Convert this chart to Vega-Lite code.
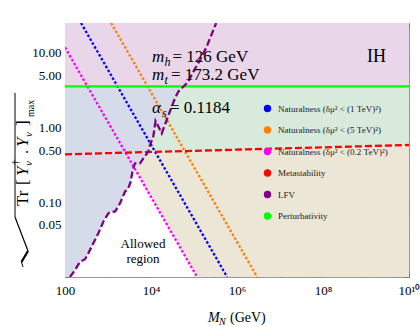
{
  "$schema": "https://vega.github.io/schema/vega-lite/v6.json",
  "width": 344,
  "height": 254,
  "autosize": {"type": "none"},
  "padding": {"left": 65, "top": 23, "right": 11, "bottom": 50},
  "config": {
    "view": {"stroke": "#9a9a9a", "strokeWidth": 1},
    "font": "Liberation Serif",
    "axis": {"labelFont": "Liberation Serif", "labelColor": "#000", "grid": false, "domain": false, "ticks": true, "tickColor": "#777", "tickWidth": 1, "tickOpacity": 1, "labelOverlap": false, "labelFlush": false, "labelBound": false, "zindex": 2}
  },
  "datasets": {
    "lines": [
      {"s": "Naturalness (δμ² < (1 TeV)²)", "x": 236, "y": 25},
      {"s": "Naturalness (δμ² < (1 TeV)²)", "x": 590000, "y": 0.01},
      {"s": "Naturalness (δμ² < (5 TeV)²)", "x": 1180, "y": 25},
      {"s": "Naturalness (δμ² < (5 TeV)²)", "x": 2950000, "y": 0.01},
      {"s": "Naturalness (δμ² < (0.2 TeV)²)", "x": 100, "y": 11.8},
      {"s": "Naturalness (δμ² < (0.2 TeV)²)", "x": 118000, "y": 0.01},
      {"s": "Metastability", "x": 100, "y": 0.438},
      {"s": "Metastability", "x": 10000000000, "y": 0.583},
      {"s": "Perturbativity", "x": 100, "y": 3.545},
      {"s": "Perturbativity", "x": 10000000000, "y": 3.545},
      {"s": "LFV", "x": 130.7, "y": 0.01},
      {"s": "LFV", "x": 171, "y": 0.0124},
      {"s": "LFV", "x": 223, "y": 0.016},
      {"s": "LFV", "x": 292, "y": 0.0173},
      {"s": "LFV", "x": 348, "y": 0.0207},
      {"s": "LFV", "x": 455, "y": 0.0282},
      {"s": "LFV", "x": 595, "y": 0.0384},
      {"s": "LFV", "x": 778, "y": 0.0549},
      {"s": "LFV", "x": 1016, "y": 0.0711},
      {"s": "LFV", "x": 1219, "y": 0.0748},
      {"s": "LFV", "x": 1456, "y": 0.0748},
      {"s": "LFV", "x": 1901, "y": 0.0968},
      {"s": "LFV", "x": 2485, "y": 0.1384},
      {"s": "LFV", "x": 2965, "y": 0.1537},
      {"s": "LFV", "x": 3373, "y": 0.1884},
      {"s": "LFV", "x": 3753, "y": 0.27},
      {"s": "LFV", "x": 4244, "y": 0.332},
      {"s": "LFV", "x": 5548, "y": 0.332},
      {"s": "LFV", "x": 6624, "y": 0.387},
      {"s": "LFV", "x": 8650, "y": 0.475},
      {"s": "LFV", "x": 9480, "y": 0.583},
      {"s": "LFV", "x": 11300, "y": 0.753},
      {"s": "LFV", "x": 12740, "y": 1.222},
      {"s": "LFV", "x": 17740, "y": 0.836},
      {"s": "LFV", "x": 23180, "y": 1.26},
      {"s": "LFV", "x": 30280, "y": 1.897},
      {"s": "LFV", "x": 36140, "y": 2.46},
      {"s": "LFV", "x": 43150, "y": 3.01},
      {"s": "LFV", "x": 56370, "y": 3.51},
      {"s": "LFV", "x": 73640, "y": 4.1},
      {"s": "LFV", "x": 96350, "y": 5.58},
      {"s": "LFV", "x": 138000, "y": 8.0},
      {"s": "LFV", "x": 197400, "y": 12.05},
      {"s": "LFV", "x": 281000, "y": 20.1},
      {"s": "LFV", "x": 328000, "y": 25}
    ],
    "blue_region": [
      {"x": 100, "lo": 0.01}, {"x": 130.7, "lo": 0.01}, {"x": 171, "lo": 0.0124}, {"x": 223, "lo": 0.016},
      {"x": 292, "lo": 0.0173}, {"x": 348, "lo": 0.0207}, {"x": 455, "lo": 0.0282}, {"x": 595, "lo": 0.0384},
      {"x": 778, "lo": 0.0549}, {"x": 1016, "lo": 0.0711}, {"x": 1219, "lo": 0.0748}, {"x": 1456, "lo": 0.0748},
      {"x": 1901, "lo": 0.0968}, {"x": 2485, "lo": 0.1384}, {"x": 2965, "lo": 0.1537}, {"x": 3373, "lo": 0.1884},
      {"x": 3753, "lo": 0.27}, {"x": 4244, "lo": 0.332}, {"x": 5548, "lo": 0.332}, {"x": 6624, "lo": 0.387},
      {"x": 8650, "lo": 0.475}, {"x": 9480, "lo": 0.583}, {"x": 11300, "lo": 0.753}, {"x": 12740, "lo": 1.222},
      {"x": 17740, "lo": 0.836}, {"x": 23180, "lo": 1.26}, {"x": 30280, "lo": 1.897}, {"x": 36140, "lo": 2.46},
      {"x": 43150, "lo": 3.01}, {"x": 56370, "lo": 3.51}, {"x": 57500, "lo": 3.545}
    ],
    "allowed": [
      {"x": 130.7, "hi": 0.01}, {"x": 171, "hi": 0.0124}, {"x": 223, "hi": 0.016}, {"x": 292, "hi": 0.0173},
      {"x": 348, "hi": 0.0207}, {"x": 455, "hi": 0.0282}, {"x": 595, "hi": 0.0384}, {"x": 778, "hi": 0.0549},
      {"x": 1016, "hi": 0.0711}, {"x": 1219, "hi": 0.0748}, {"x": 1456, "hi": 0.0748}, {"x": 1901, "hi": 0.0968},
      {"x": 2485, "hi": 0.1384}, {"x": 2965, "hi": 0.1537}, {"x": 3373, "hi": 0.1884}, {"x": 3753, "hi": 0.27},
      {"x": 3972, "hi": 0.297}, {"x": 118000, "hi": 0.01}
    ]
  },
  "resolve": {"axis": {"x": "independent", "y": "independent"}},
  "layer": [
    {
      "data": {"values": [{}]},
      "mark": {"type": "rect", "color": "#ebe6d6"},
      "encoding": {
        "x": {"datum": 100, "type": "quantitative", "scale": {"type": "log", "domain": [100, 10000000000], "nice": false},
          "axis": {"orient": "bottom", "title": null, "offset": -4, "tickSize": 4, "labelPadding": 7, "labelFontSize": 13,
            "values": [100, 1000, 2000, 3000, 4000, 5000, 6000, 7000, 8000, 9000, 10000, 100000, 200000, 300000, 400000, 500000, 600000, 700000, 800000, 900000, 1000000, 10000000, 20000000, 30000000, 40000000, 50000000, 60000000, 70000000, 80000000, 90000000, 100000000, 1000000000, 2000000000, 3000000000, 4000000000, 5000000000, 6000000000, 7000000000, 8000000000, 9000000000, 10000000000],
            "labelExpr": "datum.value == 100 ? '100' : datum.value == 10000 ? '10⁴' : datum.value == 1000000 ? '10⁶' : datum.value == 100000000 ? '10⁸' : datum.value == 10000000000 ? '10¹⁰' : ''"}},
        "x2": {"datum": 10000000000},
        "y": {"datum": 0.01, "type": "quantitative", "scale": {"type": "log", "domain": [0.01, 25], "nice": false},
          "axis": {"orient": "left", "title": null, "offset": -4, "tickSize": 4, "labelPadding": 4, "labelFontSize": 13,
            "values": [0.01, 0.02, 0.03, 0.04, 0.05, 0.06, 0.07, 0.08, 0.09, 0.1, 0.2, 0.3, 0.4, 0.5, 0.6, 0.7, 0.8, 0.9, 1, 2, 3, 4, 5, 6, 7, 8, 9, 10, 20],
            "labelExpr": "indexof([0.05, 0.1, 0.5, 1, 5, 10], datum.value) >= 0 ? format(datum.value, '.2f') : ''"}},
        "y2": {"datum": 3.545}
      }
    },
    {
      "data": {"values": [{}]},
      "mark": {"type": "rect", "color": "#e9d6e9"},
      "encoding": {
        "x": {"datum": 100, "type": "quantitative",
          "axis": {"orient": "top", "title": null, "labels": false, "offset": -4, "tickSize": 4,
            "values": [100, 1000, 2000, 3000, 4000, 5000, 6000, 7000, 8000, 9000, 10000, 100000, 200000, 300000, 400000, 500000, 600000, 700000, 800000, 900000, 1000000, 10000000, 20000000, 30000000, 40000000, 50000000, 60000000, 70000000, 80000000, 90000000, 100000000, 1000000000, 2000000000, 3000000000, 4000000000, 5000000000, 6000000000, 7000000000, 8000000000, 9000000000, 10000000000]}},
        "x2": {"datum": 10000000000},
        "y": {"datum": 3.545, "type": "quantitative",
          "axis": {"orient": "right", "title": null, "labels": false, "offset": -4, "tickSize": 4,
            "values": [0.01, 0.02, 0.03, 0.04, 0.05, 0.06, 0.07, 0.08, 0.09, 0.1, 0.2, 0.3, 0.4, 0.5, 0.6, 0.7, 0.8, 0.9, 1, 2, 3, 4, 5, 6, 7, 8, 9, 10, 20]}},
        "y2": {"datum": 25}
      }
    },
    {
      "data": {"name": "lines"},
      "transform": [{"filter": "datum.s == 'Metastability'"}],
      "mark": {"type": "area", "color": "#d8eadc", "clip": true},
      "encoding": {
        "x": {"field": "x", "type": "quantitative", "axis": null},
        "y": {"field": "y", "type": "quantitative", "axis": null},
        "y2": {"datum": 3.545}
      }
    },
    {
      "data": {"name": "blue_region"},
      "mark": {"type": "area", "color": "#d6dbea", "clip": true},
      "encoding": {
        "x": {"field": "x", "type": "quantitative", "axis": null},
        "y": {"field": "lo", "type": "quantitative", "axis": null},
        "y2": {"datum": 3.545}
      }
    },
    {
      "data": {"name": "allowed"},
      "mark": {"type": "area", "color": "#ffffff", "clip": true},
      "encoding": {
        "x": {"field": "x", "type": "quantitative", "axis": null},
        "y": {"field": "hi", "type": "quantitative", "axis": null},
        "y2": {"datum": 0.01}
      }
    },
    {
      "data": {"name": "lines"},
      "mark": {"type": "line", "strokeWidth": 2.3, "clip": true, "strokeCap": "butt"},
      "encoding": {
        "x": {"field": "x", "type": "quantitative", "axis": null},
        "y": {"field": "y", "type": "quantitative", "axis": null},
        "color": {"field": "s", "type": "nominal",
          "scale": {"domain": ["Naturalness (δμ² < (1 TeV)²)", "Naturalness (δμ² < (5 TeV)²)", "Naturalness (δμ² < (0.2 TeV)²)", "Metastability", "LFV", "Perturbativity"],
                    "range": ["#0000ff", "#ff8000", "#ff00ff", "#ff0000", "#800080", "#00ff00"]},
          "legend": {"orient": "none", "legendX": 198, "legendY": 81, "title": null, "padding": 0,
            "symbolType": "circle", "symbolSize": 55, "symbolStrokeWidth": 0, "rowPadding": 11.5, "labelOffset": 6,
            "labelFont": "Liberation Serif", "labelFontSize": 9, "labelColor": "#222", "labelLimit": 300,
            "encode": {"symbols": {"update": {"fill": {"scale": "color", "field": "value"}, "opacity": {"value": 1}, "strokeWidth": {"value": 0}}}}}},
        "strokeDash": {"field": "s", "type": "nominal",
          "scale": {"domain": ["Naturalness (δμ² < (1 TeV)²)", "Naturalness (δμ² < (5 TeV)²)", "Naturalness (δμ² < (0.2 TeV)²)", "Metastability", "LFV", "Perturbativity"],
                    "range": [[2.5, 2], [2.5, 2], [2.5, 2], [7, 3], [7, 3], [1, 0]]},
          "legend": null}
      }
    },
    {"data": {"values": [{}]}, "mark": {"type": "text", "text": "m", "fontSize": 17, "fontStyle": "italic", "align": "left", "baseline": "alphabetic"},
     "encoding": {"x": {"datum": 10540, "axis": null}, "y": {"datum": 7.52, "axis": null}}},
    {"data": {"values": [{}]}, "mark": {"type": "text", "text": "h", "fontSize": 12, "fontStyle": "italic", "align": "left", "baseline": "alphabetic", "dx": 12.5, "dy": 4},
     "encoding": {"x": {"datum": 10540, "axis": null}, "y": {"datum": 7.52, "axis": null}}},
    {"data": {"values": [{}]}, "mark": {"type": "text", "text": "= 126 GeV", "fontSize": 17, "align": "left", "baseline": "alphabetic", "dx": 20.5},
     "encoding": {"x": {"datum": 10540, "axis": null}, "y": {"datum": 7.52, "axis": null}}},
    {"data": {"values": [{}]}, "mark": {"type": "text", "text": "m", "fontSize": 17, "fontStyle": "italic", "align": "left", "baseline": "alphabetic"},
     "encoding": {"x": {"datum": 10540, "axis": null}, "y": {"datum": 4.32, "axis": null}}},
    {"data": {"values": [{}]}, "mark": {"type": "text", "text": "t", "fontSize": 12, "fontStyle": "italic", "align": "left", "baseline": "alphabetic", "dx": 12.5, "dy": 4},
     "encoding": {"x": {"datum": 10540, "axis": null}, "y": {"datum": 4.32, "axis": null}}},
    {"data": {"values": [{}]}, "mark": {"type": "text", "text": "= 173.2 GeV", "fontSize": 17, "align": "left", "baseline": "alphabetic", "dx": 19},
     "encoding": {"x": {"datum": 10540, "axis": null}, "y": {"datum": 4.32, "axis": null}}},
    {"data": {"values": [{}]}, "mark": {"type": "text", "text": "α", "fontSize": 17, "fontStyle": "italic", "align": "left", "baseline": "alphabetic"},
     "encoding": {"x": {"datum": 10540, "axis": null}, "y": {"datum": 1.563, "axis": null}}},
    {"data": {"values": [{}]}, "mark": {"type": "text", "text": "s", "fontSize": 12, "fontStyle": "italic", "align": "left", "baseline": "alphabetic", "dx": 10, "dy": 4},
     "encoding": {"x": {"datum": 10540, "axis": null}, "y": {"datum": 1.563, "axis": null}}},
    {"data": {"values": [{}]}, "mark": {"type": "text", "text": "= 0.1184", "fontSize": 17, "align": "left", "baseline": "alphabetic", "dx": 18},
     "encoding": {"x": {"datum": 10540, "axis": null}, "y": {"datum": 1.563, "axis": null}}},
    {"data": {"values": [{}]}, "mark": {"type": "text", "text": "IH", "fontSize": 18, "align": "left", "baseline": "alphabetic"},
     "encoding": {"x": {"datum": 1054000000, "axis": null}, "y": {"datum": 7.52, "axis": null}}},
    {"data": {"values": [{}]}, "mark": {"type": "text", "text": "Allowed", "fontSize": 13, "align": "center", "baseline": "alphabetic"},
     "encoding": {"x": {"datum": 6520, "axis": null}, "y": {"datum": 0.0244, "axis": null}}},
    {"data": {"values": [{}]}, "mark": {"type": "text", "text": "region", "fontSize": 13, "align": "center", "baseline": "alphabetic"},
     "encoding": {"x": {"datum": 6520, "axis": null}, "y": {"datum": 0.0154, "axis": null}}},
    {"data": {"values": [{}]}, "mark": {"type": "text", "text": "M", "fontSize": 14, "fontStyle": "italic", "align": "left", "baseline": "alphabetic"},
     "encoding": {"x": {"datum": 211800, "axis": null}, "y": {"datum": 0.0025, "axis": null}}},
    {"data": {"values": [{}]}, "mark": {"type": "text", "text": "N", "fontSize": 10, "fontStyle": "italic", "align": "left", "baseline": "alphabetic", "dx": 11, "dy": 3},
     "encoding": {"x": {"datum": 211800, "axis": null}, "y": {"datum": 0.0025, "axis": null}}},
    {"data": {"values": [{}]}, "mark": {"type": "text", "text": "(GeV)", "fontSize": 14, "align": "left", "baseline": "alphabetic", "dx": 22},
     "encoding": {"x": {"datum": 211800, "axis": null}, "y": {"datum": 0.0025, "axis": null}}},
    {"data": {"values": [{}]}, "mark": {"type": "rule", "strokeWidth": 1, "color": "#000"},
     "encoding": {"x": {"datum": 10.55, "axis": null}, "x2": {"datum": 9.736}, "y": {"datum": 0.01361, "axis": null}, "y2": {"datum": 0.01588}}},
    {"data": {"values": [{}]}, "mark": {"type": "rule", "strokeWidth": 2.2, "color": "#000"},
     "encoding": {"x": {"datum": 9.736, "axis": null}, "x2": {"datum": 13.79}, "y": {"datum": 0.01588, "axis": null}, "y2": {"datum": 0.02228}}},
    {"data": {"values": [{}]}, "mark": {"type": "rule", "strokeWidth": 1.2, "color": "#000"},
     "encoding": {"x": {"datum": 13.79, "axis": null}, "x2": {"datum": 6.874}, "y": {"datum": 0.02228, "axis": null}, "y2": {"datum": 0.06349}}},
    {"data": {"values": [{}]}, "mark": {"type": "rule", "strokeWidth": 1, "color": "#000"},
     "encoding": {"x": {"datum": 6.874, "axis": null}, "y": {"datum": 0.06349, "axis": null}, "y2": {"datum": 2.894}}},
    {"data": {"values": [{}]}, "mark": {"type": "text", "text": "Tr", "fontSize": 17, "angle": 270, "align": "left", "baseline": "alphabetic", "dx": 1},
     "encoding": {"x": {"datum": 13.79, "axis": null}, "y": {"datum": 0.08638, "axis": null}}},
    {"data": {"values": [{}]}, "mark": {"type": "text", "text": "[", "fontSize": 17, "angle": 270, "align": "left", "baseline": "alphabetic", "dx": 22},
     "encoding": {"x": {"datum": 13.79, "axis": null}, "y": {"datum": 0.08638, "axis": null}}},
    {"data": {"values": [{}]}, "mark": {"type": "text", "text": "Y", "fontSize": 17, "fontStyle": "italic", "angle": 270, "align": "left", "baseline": "alphabetic", "dx": 31},
     "encoding": {"x": {"datum": 13.79, "axis": null}, "y": {"datum": 0.08638, "axis": null}}},
    {"data": {"values": [{}]}, "mark": {"type": "text", "text": "ν", "fontSize": 11, "fontStyle": "italic", "angle": 270, "align": "left", "baseline": "alphabetic", "dx": 41, "dy": 4},
     "encoding": {"x": {"datum": 13.79, "axis": null}, "y": {"datum": 0.08638, "axis": null}}},
    {"data": {"values": [{}]}, "mark": {"type": "text", "text": "†", "fontSize": 11, "angle": 270, "align": "left", "baseline": "alphabetic", "dx": 42, "dy": -9},
     "encoding": {"x": {"datum": 13.79, "axis": null}, "y": {"datum": 0.08638, "axis": null}}},
    {"data": {"values": [{}]}, "mark": {"type": "text", "text": ".", "fontSize": 17, "angle": 270, "align": "left", "baseline": "alphabetic", "dx": 53},
     "encoding": {"x": {"datum": 13.79, "axis": null}, "y": {"datum": 0.08638, "axis": null}}},
    {"data": {"values": [{}]}, "mark": {"type": "text", "text": "Y", "fontSize": 17, "fontStyle": "italic", "angle": 270, "align": "left", "baseline": "alphabetic", "dx": 60},
     "encoding": {"x": {"datum": 13.79, "axis": null}, "y": {"datum": 0.08638, "axis": null}}},
    {"data": {"values": [{}]}, "mark": {"type": "text", "text": "ν", "fontSize": 11, "fontStyle": "italic", "angle": 270, "align": "left", "baseline": "alphabetic", "dx": 70, "dy": 4},
     "encoding": {"x": {"datum": 13.79, "axis": null}, "y": {"datum": 0.08638, "axis": null}}},
    {"data": {"values": [{}]}, "mark": {"type": "text", "text": "]", "fontSize": 17, "angle": 270, "align": "left", "baseline": "alphabetic", "dx": 81},
     "encoding": {"x": {"datum": 13.79, "axis": null}, "y": {"datum": 0.08638, "axis": null}}},
    {"data": {"values": [{}]}, "mark": {"type": "text", "text": "max", "fontSize": 10, "angle": 270, "align": "left", "baseline": "alphabetic", "dx": 90, "dy": 6},
     "encoding": {"x": {"datum": 13.79, "axis": null}, "y": {"datum": 0.08638, "axis": null}}}
  ]
}
